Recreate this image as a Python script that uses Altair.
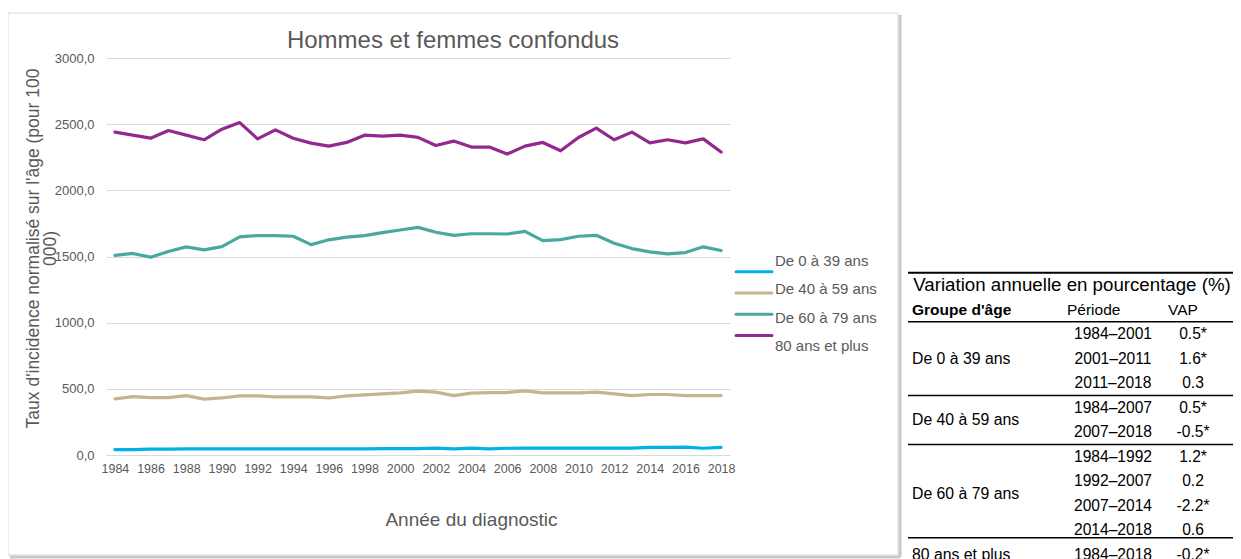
import altair as alt
import pandas as pd

FONT = "Liberation Sans, Arial, sans-serif"
GREY = "#595959"

years = list(range(1984, 2019))
series = ["De 0 à 39 ans", "De 40 à 59 ans", "De 60 à 79 ans", "80 ans et plus"]
colors = ["#00b2e8", "#c4b48f", "#4aa99f", "#93288f"]

s0_39 = [40, 41, 44, 45, 46, 46, 47, 47, 47, 47, 47, 47, 47, 47, 47, 48, 48, 48,
         52, 47, 52, 47, 51, 52, 52, 52, 52, 52, 52, 52, 57, 58, 59, 51, 57]
s40_59 = [424, 441, 433, 433, 449, 422, 431, 447, 447, 439, 439, 439, 431, 447, 455, 462, 470, 482,
          475, 449, 467, 472, 472, 485, 470, 470, 470, 475, 462, 449, 457, 457, 449, 449, 449]
s60_79 = [1508, 1523, 1495, 1538, 1573, 1550, 1575, 1648, 1658, 1658, 1653, 1590, 1626, 1646, 1658, 1681, 1700, 1720,
          1683, 1660, 1672, 1672, 1670, 1690, 1620, 1627, 1653, 1660, 1600, 1560, 1535, 1520, 1530, 1573, 1545]
s80 = [2440, 2417, 2394, 2452, 2417, 2382, 2462, 2512, 2389, 2457, 2394, 2357, 2334, 2362, 2417, 2409, 2417, 2400,
       2339, 2372, 2327, 2327, 2274, 2334, 2362, 2299, 2399, 2470, 2382, 2440, 2359, 2382, 2359, 2389, 2289]

x_tick_years = list(range(1984, 2019, 2))
y_ticks = [0, 500, 1000, 1500, 2000, 2500, 3000]

chart_title = "Hommes et femmes confondus"
x_title = "Année du diagnostic"
y_title = ["Taux d'incidence normalisé sur l'âge (pour 100", "000)"]

# table content
table_title = "Variation annuelle en pourcentage (%)"
table_head = ["Groupe d'âge", "Période", "VAP"]
table_groups = ["De 0 à 39 ans", "De 40 à 59 ans", "De 60 à 79 ans", "80 ans et plus"]
group_rows = [3, 5.5, 8.5, 11]
periods = ["1984–2001", "2001–2011", "2011–2018", "1984–2007", "2007–2018",
           "1984–1992", "1992–2007", "2007–2014", "2014–2018", "1984–2018"]
vap = ["0.5*", "1.6*", "0.3", "0.5*", "-0.5*", "1.2*", "0.2", "-2.2*", "0.6", "-0.2*"]
line_rows = [-0.5, 1.5, 4.5, 6.5, 10.3]
line_widths = [2, 1.5, 1.5, 1.5, 1.5]

# ---------- data frames ----------
rows = []
for name, vals in zip(series, [s0_39, s40_59, s60_79, s80]):
    for y, v in zip(years, vals):
        rows.append({"year": y, "value": v, "series": name})
df = pd.DataFrame(rows)

W, H = 624, 397

lines = alt.Chart(df).mark_line(strokeWidth=3.2, strokeCap="round", strokeJoin="round").encode(
    x=alt.X("year:O", scale=alt.Scale(type="point", padding=0.5),
            axis=alt.Axis(values=x_tick_years, labelAngle=0, ticks=False, grid=False,
                          domainColor="#d9d9d9", labelPadding=7, labelFontSize=12.5,
                          labelColor=GREY, labelFont=FONT, title=x_title, titleFont=FONT,
                          titleFontSize=19, titleFontWeight="normal", titleColor=GREY,
                          titleX=365, titleY=64, titleBaseline="middle")),
    y=alt.Y("value:Q", scale=alt.Scale(domain=[0, 3000], nice=False),
            axis=alt.Axis(values=y_ticks, grid=True, gridColor="#d9d9d9", domain=False, ticks=False,
                          labelExpr="replace(format(datum.value, '.1f'), '.', ',')",
                          labelPadding=12, labelFontSize=13, labelColor=GREY, labelFont=FONT,
                          title=y_title, titleFont=FONT, titleFontSize=17.5, titleFontWeight="normal",
                          titleColor=GREY, titleX=-82, titleY=190, titleBaseline="top",
                          titleLineHeight=17, titleAlign="center", titleAngle=270)),
    color=alt.Color("series:N", scale=alt.Scale(domain=series, range=colors), legend=None),
    order=alt.Order("year:O"),
)

one = pd.DataFrame({"k": [0]})

shadow_r = alt.Chart(one).mark_rule(stroke="#c8c8c8", strokeWidth=3).encode(
    x=alt.value(794), y=alt.value(-43), y2=alt.value(499))
shadow_b = alt.Chart(one).mark_rule(stroke="#c8c8c8", strokeWidth=3).encode(
    x=alt.value(-96), x2=alt.value(794), y=alt.value(499))
frame = alt.Chart(one).mark_rect(fillOpacity=0, stroke="#d9d9d9", strokeWidth=1).encode(
    x=alt.value(-98), x2=alt.value(792), y=alt.value(-45), y2=alt.value(497))

title = alt.Chart(pd.DataFrame({"t": [chart_title]})).mark_text(
    font=FONT, fontSize=24, color=GREY, align="center", baseline="middle").encode(
    text="t:N", x=alt.value(347), y=alt.value(-17))

# manual legend
leg = pd.DataFrame({"series": series, "a": [0] * 4, "b": [1] * 4})
leg_y = alt.Y("series:N", scale=alt.Scale(domain=series, range=[203, 288], padding=0), axis=None)
leg_x_scale = alt.Scale(domain=[0, 1], range=[630, 666], nice=False, zero=False)
leg_rules = alt.Chart(leg).mark_rule(strokeWidth=3, strokeCap="round").encode(
    x=alt.X("a:Q", scale=leg_x_scale, axis=None), x2="b:Q", y=leg_y,
    color=alt.Color("series:N", scale=alt.Scale(domain=series, range=colors), legend=None))
leg_text = alt.Chart(leg).mark_text(font=FONT, fontSize=15, color=GREY, align="left",
                                     baseline="middle", dx=3).encode(
    x=alt.X("b:Q", scale=leg_x_scale, axis=None), y=leg_y, text="series:N")

# table
row_scale = alt.Scale(domain=[0, 11], range=[227, 497], nice=False, zero=False)

t_lines = pd.DataFrame({"row": line_rows, "w": line_widths, "a": [0] * 5, "b": [1] * 5})
tab_rules = alt.Chart(t_lines).mark_rule(color="black").encode(
    x=alt.X("a:Q", scale=alt.Scale(domain=[0, 1], range=[802, 1127], nice=False, zero=False), axis=None),
    x2="b:Q",
    y=alt.Y("row:Q", scale=row_scale, axis=None),
    strokeWidth=alt.StrokeWidth("w:Q", scale=None, legend=None))


def tab_text(rows_, texts, xpx, **kw):
    d = pd.DataFrame({"row": rows_, "text": texts})
    return alt.Chart(d).mark_text(font=FONT, color="black", baseline="middle", **kw).encode(
        x=alt.value(xpx),
        y=alt.Y("row:Q", scale=row_scale, axis=None),
        text="text:N")


n = len(periods)
tab_title = tab_text([0], [table_title], 966, fontSize=18.7, align="center")
tab_bold = tab_text([1], [table_head[0]], 806, fontSize=15.5, fontWeight="bold", align="left")
tab_per_h = tab_text([1], [table_head[1]], 961, fontSize=15.5, align="left")
tab_vap_h = tab_text([1], [table_head[2]], 1077, fontSize=15.5, align="center")
tab_groups = tab_text(group_rows, table_groups, 806, fontSize=15.8, align="left")
tab_periods = tab_text(list(range(2, 2 + n)), periods, 1007, fontSize=15.6, align="center")
tab_vap = tab_text(list(range(2, 2 + n)), vap, 1087, fontSize=15.6, align="center")

chart = alt.layer(
    shadow_r, shadow_b, frame, title, lines, leg_rules, leg_text,
    tab_rules, tab_title, tab_bold, tab_per_h, tab_vap_h, tab_groups, tab_periods, tab_vap
).resolve_scale(x="independent", y="independent").properties(
    width=W, height=H,
    padding={"left": 98, "top": 50, "right": 503, "bottom": 104},
    autosize=alt.AutoSizeParams(type="none"),
    background="white",
).configure_view(stroke=None)

chart.save("out.html", embed_options={"renderer": "svg", "actions": False})
